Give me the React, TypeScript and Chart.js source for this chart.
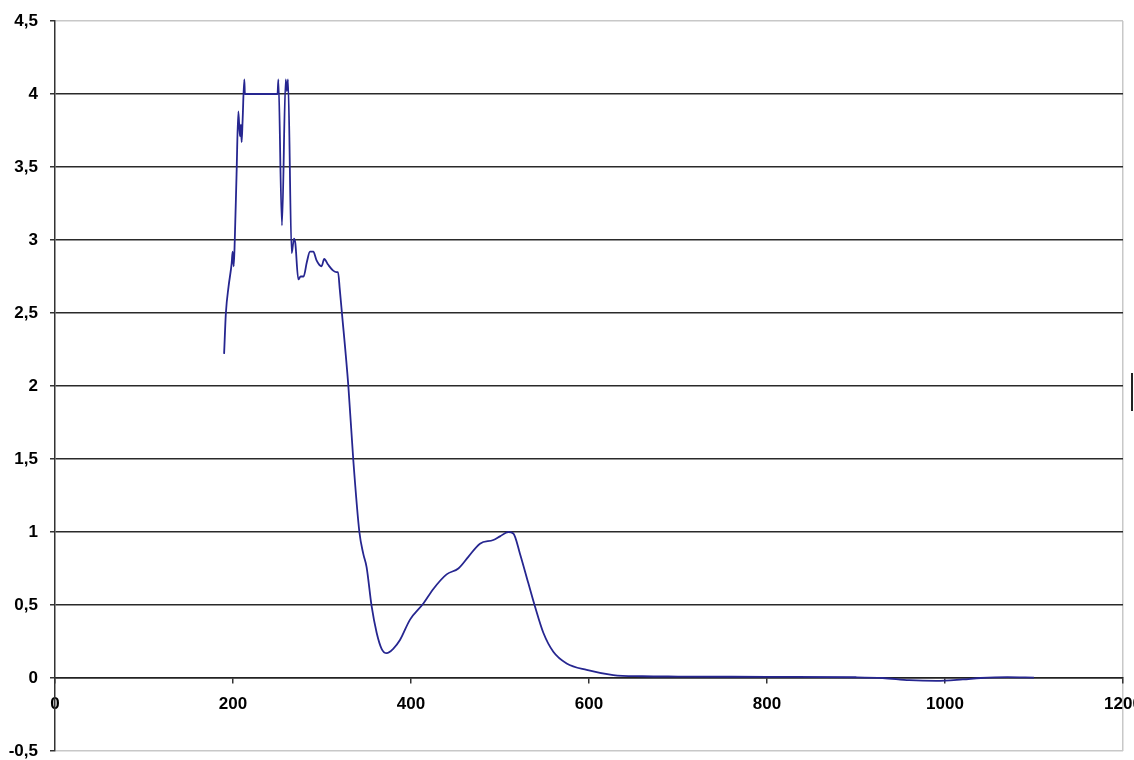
import React, { useEffect, useRef } from "react";
import { Chart, registerables } from "chart.js";

Chart.register(...registerables);

// Wavelength (x) and absorbance (y)
const xValues: number[] = [
  190, 192, 195, 198.5, 199.6, 200.8, 202, 204, 206, 207.8, 208.9, 209.7, 210.8, 212.7, 213.4,
  250, 251, 255, 259.2, 260.5, 261.8, 265.9, 268.5, 270, 273.4, 276, 279.3, 283, 286.5, 290.2,
  293.9, 297, 299.5, 302.5, 307, 312.6, 316.3, 318, 320, 322.1, 329.6, 335.2, 342, 346.4,
  350.1, 355.8, 361.4, 367, 372.7, 380, 387.6, 398.9, 413.9, 425.1, 440, 453.2, 464.4, 477.5,
  492.5, 500, 509.4, 515, 522.5, 531.8, 539.3, 548.7, 559.9, 574.9, 597.4, 627.3, 660, 700, 800,
  900, 930, 960, 990, 1020, 1040, 1070, 1100,
];
const yValues: number[] = [
  2.22, 2.5, 2.68, 2.84, 2.92, 2.82, 3.0, 3.45, 3.88, 3.71, 3.79, 3.67, 3.82, 4.1, 4.0,
  4.0, 4.1, 3.1, 4.1, 4.02, 4.1, 2.91, 3.01, 2.98, 2.73, 2.75, 2.75, 2.85, 2.92, 2.92,
  2.86, 2.83, 2.82, 2.87, 2.83, 2.79, 2.78, 2.78, 2.66, 2.52, 2.0, 1.49, 1.0, 0.85,
  0.76, 0.49, 0.31, 0.2, 0.17, 0.2, 0.26, 0.4, 0.51, 0.61, 0.71, 0.75, 0.83, 0.92,
  0.945, 0.97, 1.0, 0.99, 0.85, 0.65, 0.49, 0.31, 0.18, 0.1, 0.055, 0.02, 0.012, 0.01, 0.008,
  0.005, 0.0, -0.015, -0.02, -0.01, 0.0, 0.006, 0.003,
];

const xTickStep = 200;
const xMin = 0;
const xMax = 1200;
const yMin = -0.5;
const yMax = 4.5;
const yTickStep = 0.5;

const tickFont = { family: "Arial, 'Liberation Sans', sans-serif", size: 17, weight: "bold" as const };

export default function App() {
  const canvasRef = useRef<HTMLCanvasElement | null>(null);

  useEffect(() => {
    const canvas = canvasRef.current;
    if (!canvas) return;
    const data = xValues.map((x, i) => ({ x, y: yValues[i] }));
    const chart = new Chart(canvas, {
      type: "line",
      data: {
        datasets: [
          {
            data,
            borderColor: "#262690",
            borderWidth: 1.8,
            pointRadius: 0,
            cubicInterpolationMode: "monotone",
            fill: false,
          },
        ],
      },
      options: {
        responsive: false,
        animation: false,
        layout: { padding: { top: 21, bottom: 9, right: 11, left: 0 } },
        plugins: { legend: { display: false }, tooltip: { enabled: false } },
        scales: {
          x: {
            type: "linear",
            min: xMin,
            max: xMax,
            position: { y: 0 } as any,
            ticks: {
              stepSize: xTickStep,
              font: tickFont,
              color: "#000",
              padding: 11,
              maxRotation: 0,
              autoSkip: false,
              callback: (v: any) => String(v),
            },
            grid: {
              color: (ctx: any) =>
                ctx.tick && ctx.tick.value === xMax ? "#c8c8c8" : "rgba(0,0,0,0)",
              tickColor: "#333",
              tickLength: 5,
              lineWidth: 1.5,
            },
            border: { color: "#222", width: 1.5 },
            afterFit: (s: any) => {
              s.paddingLeft = 0;
              s.paddingRight = 0;
            },
          },
          y: {
            type: "linear",
            min: yMin,
            max: yMax,
            ticks: {
              stepSize: yTickStep,
              font: tickFont,
              color: "#000",
              padding: 12,
              callback: (v: any) => String(v).replace(".", ","),
            },
            grid: {
              color: (ctx: any) =>
                ctx.tick && (ctx.tick.value === yMax || ctx.tick.value === yMin)
                  ? "#c8c8c8"
                  : "#2a2a2a",
              tickColor: "#333",
              tickLength: 5,
              lineWidth: 1.5,
            },
            border: { color: "#333", width: 1.5 },
            afterFit: (s: any) => {
              s.width = 55;
              s.paddingTop = 0;
              s.paddingBottom = 0;
            },
          },
        },
      },
    });
    return () => chart.destroy();
  }, []);

  return (
    <div style={{ position: "absolute", left: 0, top: 0, width: 1134, height: 760, background: "#fff", overflow: "hidden" }}>
      <canvas ref={canvasRef} width={1134} height={760} style={{ display: "block" }} />
      <div style={{ position: "absolute", left: 1131, top: 373, width: 2, height: 38, background: "#222" }} />
    </div>
  );
}
